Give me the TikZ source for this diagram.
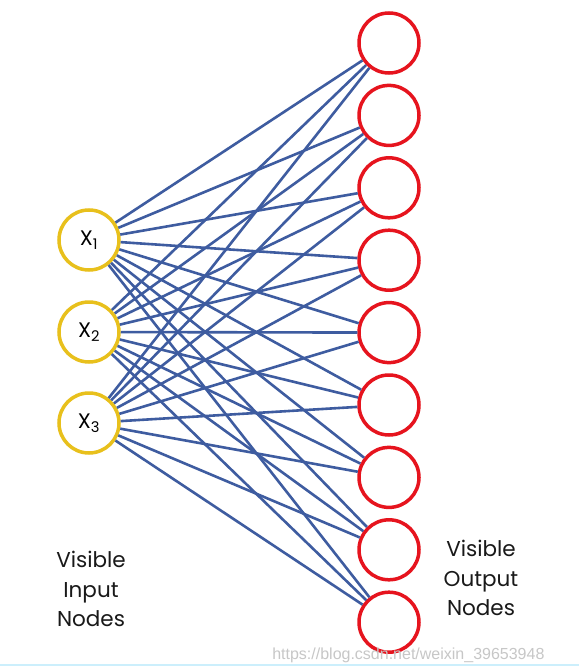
\documentclass[tikz,border=0pt]{standalone}
\usepackage{fontspec}
\setmainfont{Poppins}
\newfontfamily\urlfont{Liberation Sans}
\definecolor{linkblue}{RGB}{62,92,160}
\definecolor{inyellow}{RGB}{232,192,28}
\definecolor{outred}{RGB}{230,20,30}

\tikzset{
	invis/.style={circle,draw=inyellow,line width=3.5pt,fill=white,minimum size=60pt,inner sep=0pt,font=\fontsize{21}{21}\selectfont},
	outvis/.style={circle,draw=outred,line width=3.5pt,fill=white,minimum size=60pt,inner sep=0pt},
	link/.style={linkblue,line width=2.6pt},
	caption/.style={align=center,font=\fontsize{21.5}{29.5}\selectfont,text=black!90}
}

\begin{document}
\begin{tikzpicture}[x=1pt,y=-1pt]
		\useasboundingbox[fill=white] (0,0) rectangle (579,666);
		\node[invis] (X1) at (89,240) {X\textsubscript{1}};
		\node[invis] (X2) at (89,332) {X\textsubscript{2}};
		\node[invis] (X3) at (89,423) {X\textsubscript{3}};
		\foreach \i in {1,...,9}
			\node[outvis] (O\i) at (389,{43+(\i-1)*72.4}) {};
		\foreach \i in {1,2,3}
			\foreach \j in {1,...,9}
				\draw[link] (X\i) -- (O\j);
		\node[caption] (inlabel) at (91,589) {Visible\\Input\\Nodes};
		\node[caption] (outlabel) at (481,578) {Visible\\Output\\Nodes};
		\node[anchor=east,text=black!22,font=\urlfont\fontsize{16}{16}\selectfont] (mark) at (548,655) {https://blog.csdn.net/weixin\_39653948};
		\draw[cyan!20,line width=2pt] (0,665) -- (579,665);
		\end{tikzpicture}
\end{document}
